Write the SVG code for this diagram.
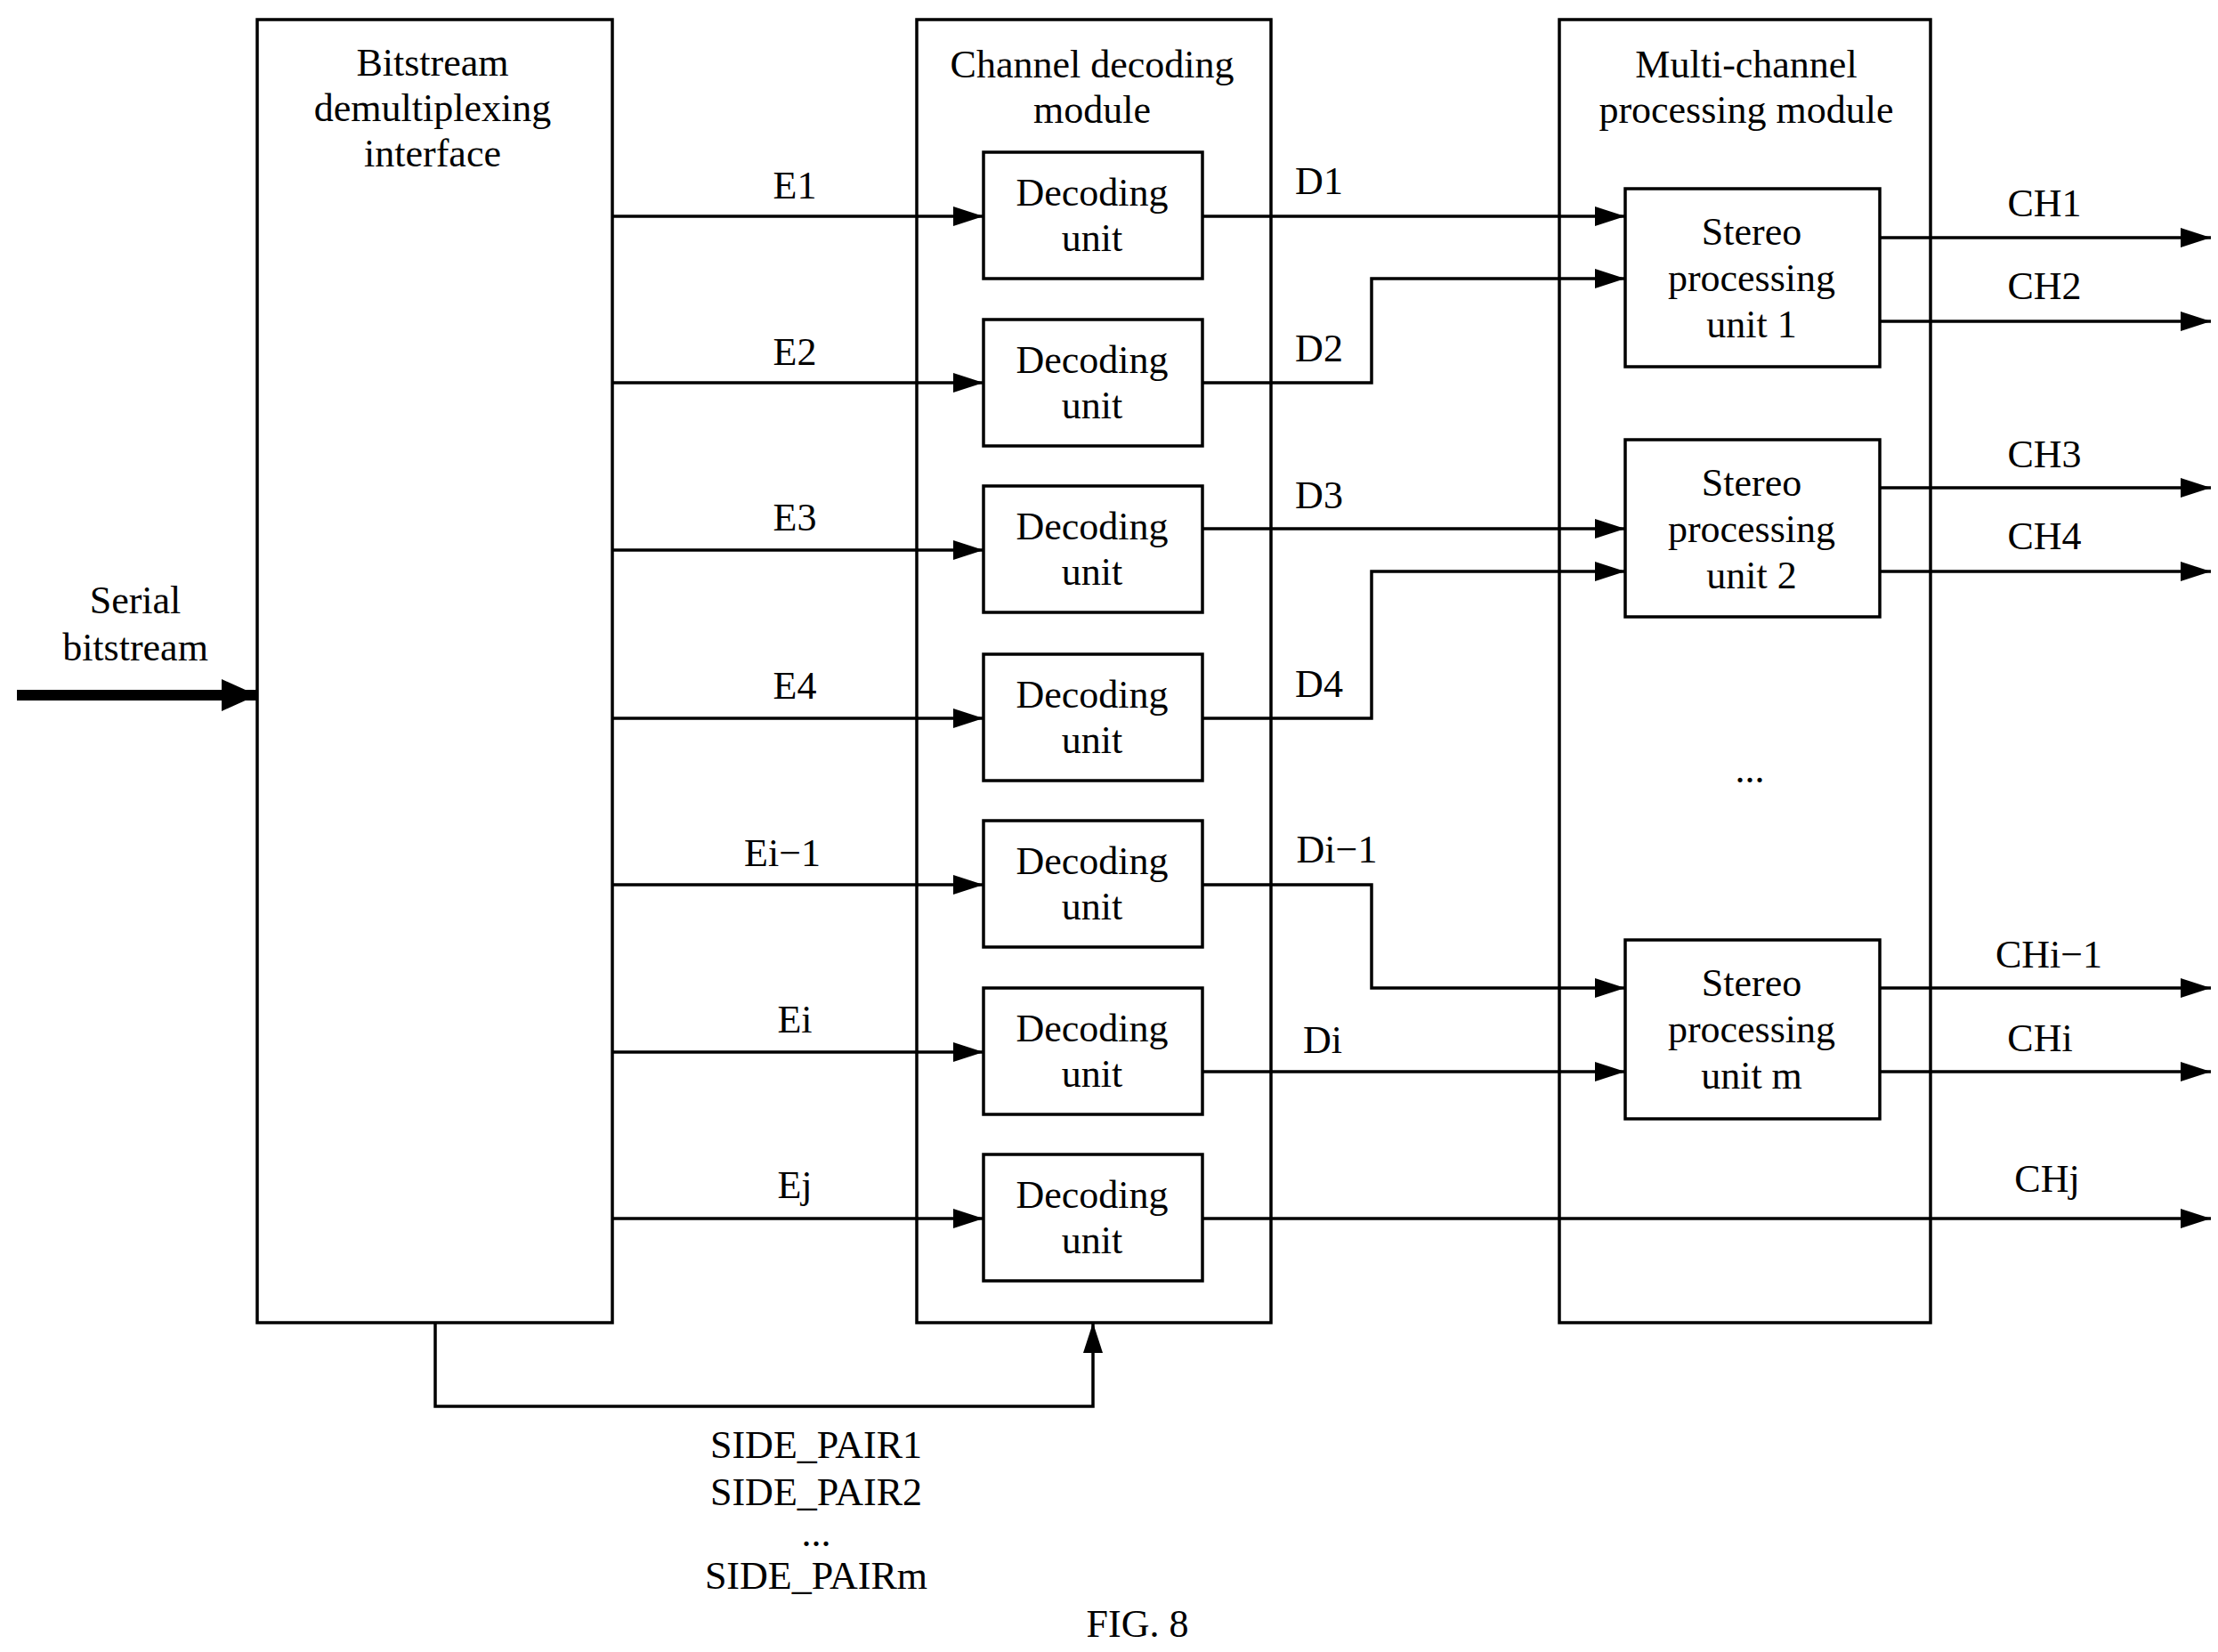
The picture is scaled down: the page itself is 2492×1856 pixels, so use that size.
<svg xmlns="http://www.w3.org/2000/svg" width="2492" height="1856" viewBox="0 0 2492 1856">
<style>
text{font-family:"Liberation Serif","Times New Roman",serif;font-size:44px;text-anchor:middle;dominant-baseline:central;fill:#000}
.n rect{fill:none;stroke:#000;stroke-width:3.5}
.c line,.c polyline{fill:none;stroke:#000;stroke-width:3.5}
</style>
<defs><marker id="a" viewBox="0 0 34 22" refX="34" refY="11" markerWidth="34" markerHeight="22" markerUnits="userSpaceOnUse" orient="auto"><path d="M0,0L34,11L0,22z" fill="#000"/></marker>
<marker id="b" viewBox="0 0 40 36" refX="40" refY="18" markerWidth="40" markerHeight="36" markerUnits="userSpaceOnUse" orient="auto"><path d="M0,0L40,18L0,36z" fill="#000"/></marker></defs>
<rect width="2492" height="1856" fill="#fff"/>
<g class="n">
<g id="demux"><rect x="289" y="22" width="399" height="1464"/><text x="486" y="70">Bitstream</text><text x="486" y="121">demultiplexing</text><text x="486" y="172">interface</text></g>
<g id="chmod"><rect x="1030" y="22" width="398" height="1464"/><text x="1227" y="72">Channel decoding</text><text x="1227" y="123">module</text></g>
<g id="mcmod"><rect x="1752" y="22" width="417" height="1464"/><text x="1962" y="72">Multi-channel</text><text x="1962" y="123">processing module</text><text x="1966" y="864">...</text></g>
<g id="dec1"><rect x="1105" y="171" width="246" height="142"/><text x="1227" y="216">Decoding</text><text x="1227" y="267">unit</text></g>
<g id="dec2"><rect x="1105" y="359" width="246" height="142"/><text x="1227" y="404">Decoding</text><text x="1227" y="455">unit</text></g>
<g id="dec3"><rect x="1105" y="546" width="246" height="142"/><text x="1227" y="591">Decoding</text><text x="1227" y="642">unit</text></g>
<g id="dec4"><rect x="1105" y="735" width="246" height="142"/><text x="1227" y="780">Decoding</text><text x="1227" y="831">unit</text></g>
<g id="dec5"><rect x="1105" y="922" width="246" height="142"/><text x="1227" y="967">Decoding</text><text x="1227" y="1018">unit</text></g>
<g id="dec6"><rect x="1105" y="1110" width="246" height="142"/><text x="1227" y="1155">Decoding</text><text x="1227" y="1206">unit</text></g>
<g id="dec7"><rect x="1105" y="1297" width="246" height="142"/><text x="1227" y="1342">Decoding</text><text x="1227" y="1393">unit</text></g>
<g id="st1"><rect x="1826" y="212" width="286" height="200"/><text x="1968" y="260">Stereo</text><text x="1968" y="312">processing</text><text x="1968" y="364">unit 1</text></g>
<g id="st2"><rect x="1826" y="494" width="286" height="199"/><text x="1968" y="542">Stereo</text><text x="1968" y="594">processing</text><text x="1968" y="646">unit 2</text></g>
<g id="stm"><rect x="1826" y="1056" width="286" height="201"/><text x="1968" y="1104">Stereo</text><text x="1968" y="1156">processing</text><text x="1968" y="1208">unit m</text></g>
</g>
<g class="c" id="connectors">
<line x1="19" y1="781" x2="289" y2="781" style="stroke-width:12" marker-end="url(#b)"/>
<line x1="688" y1="243" x2="1105" y2="243" marker-end="url(#a)"/>
<line x1="688" y1="430" x2="1105" y2="430" marker-end="url(#a)"/>
<line x1="688" y1="618" x2="1105" y2="618" marker-end="url(#a)"/>
<line x1="688" y1="807" x2="1105" y2="807" marker-end="url(#a)"/>
<line x1="688" y1="994" x2="1105" y2="994" marker-end="url(#a)"/>
<line x1="688" y1="1182" x2="1105" y2="1182" marker-end="url(#a)"/>
<line x1="688" y1="1369" x2="1105" y2="1369" marker-end="url(#a)"/>
<line x1="1351" y1="243" x2="1826" y2="243" marker-end="url(#a)"/>
<polyline points="1351,430 1541,430 1541,313 1826,313" marker-end="url(#a)"/>
<line x1="1351" y1="594" x2="1826" y2="594" marker-end="url(#a)"/>
<polyline points="1351,807 1541,807 1541,642 1826,642" marker-end="url(#a)"/>
<polyline points="1351,994 1541,994 1541,1110 1826,1110" marker-end="url(#a)"/>
<line x1="1351" y1="1204" x2="1826" y2="1204" marker-end="url(#a)"/>
<line x1="1351" y1="1369" x2="2484" y2="1369" marker-end="url(#a)"/>
<line x1="2112" y1="267" x2="2484" y2="267" marker-end="url(#a)"/>
<line x1="2112" y1="361" x2="2484" y2="361" marker-end="url(#a)"/>
<line x1="2112" y1="548" x2="2484" y2="548" marker-end="url(#a)"/>
<line x1="2112" y1="642" x2="2484" y2="642" marker-end="url(#a)"/>
<line x1="2112" y1="1110" x2="2484" y2="1110" marker-end="url(#a)"/>
<line x1="2112" y1="1204" x2="2484" y2="1204" marker-end="url(#a)"/>
<polyline points="489,1486 489,1580 1228,1580 1228,1486" marker-end="url(#a)"/>
</g>
<g id="labels">
<text x="152" y="674">Serial</text><text x="152" y="727">bitstream</text>
<text x="893" y="208">E1</text><text x="893" y="395">E2</text><text x="893" y="581">E3</text><text x="893" y="770">E4</text><text x="879" y="958">Ei−1</text><text x="893" y="1145">Ei</text><text x="893" y="1331">Ej</text>
<text x="1482" y="203">D1</text><text x="1482" y="391">D2</text><text x="1482" y="556">D3</text><text x="1482" y="768">D4</text><text x="1502" y="954">Di−1</text><text x="1486" y="1168">Di</text>
<text x="2297" y="228">CH1</text><text x="2297" y="321">CH2</text><text x="2297" y="510">CH3</text><text x="2297" y="602">CH4</text><text x="2302" y="1072">CHi−1</text><text x="2292" y="1166">CHi</text><text x="2300" y="1324">CHj</text>
<text x="917" y="1623">SIDE_PAIR1</text><text x="917" y="1676">SIDE_PAIR2</text><text x="917" y="1722">...</text><text x="917" y="1770">SIDE_PAIRm</text>
<text x="1278" y="1824">FIG. 8</text>
</g>
</svg>
